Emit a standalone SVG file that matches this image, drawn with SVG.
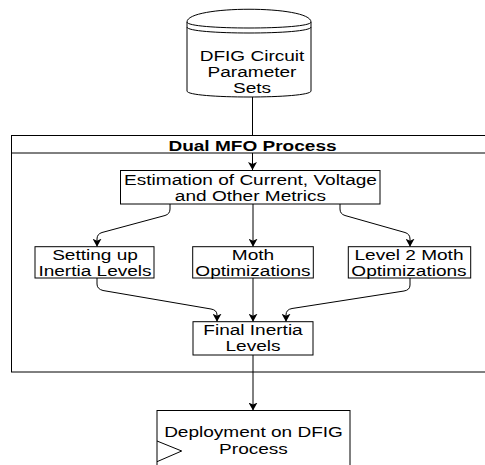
<svg xmlns="http://www.w3.org/2000/svg" width="485" height="465" viewBox="0 0 485 465">
<style>
.b{fill:#fff;stroke:#000;stroke-width:1}
.c{fill:none;stroke:#000;stroke-width:1}
.t{font-family:"Liberation Sans",Arial,sans-serif;font-size:14px;text-anchor:middle;fill:#000}
.h{font-weight:bold}
</style>
<defs>
<marker id="arr" markerWidth="8" markerHeight="9" viewBox="0 0 8 9" refX="8" refY="4.5" orient="auto" markerUnits="userSpaceOnUse">
<path d="M0,0 L8,4.5 L0,9 L2,4.5 Z" fill="#000"/>
</marker>
</defs>
<rect width="485" height="465" fill="#fff"/>
<g id="container">
<rect class="b" x="11.5" y="135.5" width="490" height="236.5"/>
<line class="c" x1="11.5" y1="153" x2="502" y2="153"/>
<text class="t h" transform="translate(252.5,150.5) scale(1.36,1)">Dual MFO Process</text>
</g>
<g id="cylinder">
<path class="b" d="M187,22 C187,5 311,5 311,22 L311,91 C311,99 187,99 187,91 Z"/>
<path class="c" d="M187,22 C187,30 311,30 311,22 M187,27 C187,35 311,35 311,27"/>
<text class="t" transform="translate(252,60.5) scale(1.36,1)">DFIG Circuit</text>
<text class="t" transform="translate(252,76.7) scale(1.36,1)">Parameter</text>
<text class="t" transform="translate(252,92.7) scale(1.36,1)">Sets</text>
</g>
<g id="connectors">
<path class="c" d="M252.5,97 V135.5"/>
<path class="c" d="M252.5,153 V170" marker-end="url(#arr)"/>
<path class="c" d="M170,204 V209 Q170,214 165,215.5 L102,232.5 Q97,234 97,239 V246.7" marker-end="url(#arr)"/>
<path class="c" d="M253,204 V246.7" marker-end="url(#arr)"/>
<path class="c" d="M340,204 V209 Q340,214 345,215.5 L405,232.5 Q410,234 410,239 V246.7" marker-end="url(#arr)"/>
<path class="c" d="M97,278 V284 Q97,289 103,290.5 L211,309 Q217,310 217,315 V321.7" marker-end="url(#arr)"/>
<path class="c" d="M253,278 V321.7" marker-end="url(#arr)"/>
<path class="c" d="M410,278 V285 Q410,290 404,291 L292,308.5 Q286,309.5 286,315 V321.7" marker-end="url(#arr)"/>
<path class="c" d="M253,355 V410.5" marker-end="url(#arr)"/>
</g>
<g id="estimation">
<rect class="b" x="120.5" y="170.5" width="259.5" height="33.5"/>
<text class="t" transform="translate(250.5,185.3) scale(1.36,1)">Estimation of Current, Voltage</text>
<text class="t" transform="translate(250.5,200.6) scale(1.36,1)">and Other Metrics</text>
</g>
<g id="setting">
<rect class="b" x="35" y="246.7" width="119" height="31.3"/>
<text class="t" transform="translate(95,259.5) scale(1.36,1)">Setting up</text>
<text class="t" transform="translate(95,275.5) scale(1.36,1)">Inertia Levels</text>
</g>
<g id="moth">
<rect class="b" x="192.7" y="246.7" width="120.6" height="31.3"/>
<text class="t" transform="translate(253,259.5) scale(1.36,1)">Moth</text>
<text class="t" transform="translate(253,275.5) scale(1.36,1)">Optimizations</text>
</g>
<g id="level2">
<rect class="b" x="348.3" y="246.7" width="122.4" height="31.3"/>
<text class="t" transform="translate(409,259.5) scale(1.36,1)">Level 2 Moth</text>
<text class="t" transform="translate(409,275.5) scale(1.36,1)">Optimizations</text>
</g>
<g id="final">
<rect class="b" x="193" y="321.7" width="120" height="33.3"/>
<text class="t" transform="translate(253,334.8) scale(1.36,1)">Final Inertia</text>
<text class="t" transform="translate(253,351) scale(1.36,1)">Levels</text>
</g>
<g id="deployment">
<rect class="b" x="157" y="410.5" width="193" height="70"/>
<path class="c" d="M157,441 L181.7,451 L157,461.7"/>
<text class="t" transform="translate(253.5,437.3) scale(1.36,1)">Deployment on DFIG</text>
<text class="t" transform="translate(253.5,454) scale(1.36,1)">Process</text>
</g>
</svg>
